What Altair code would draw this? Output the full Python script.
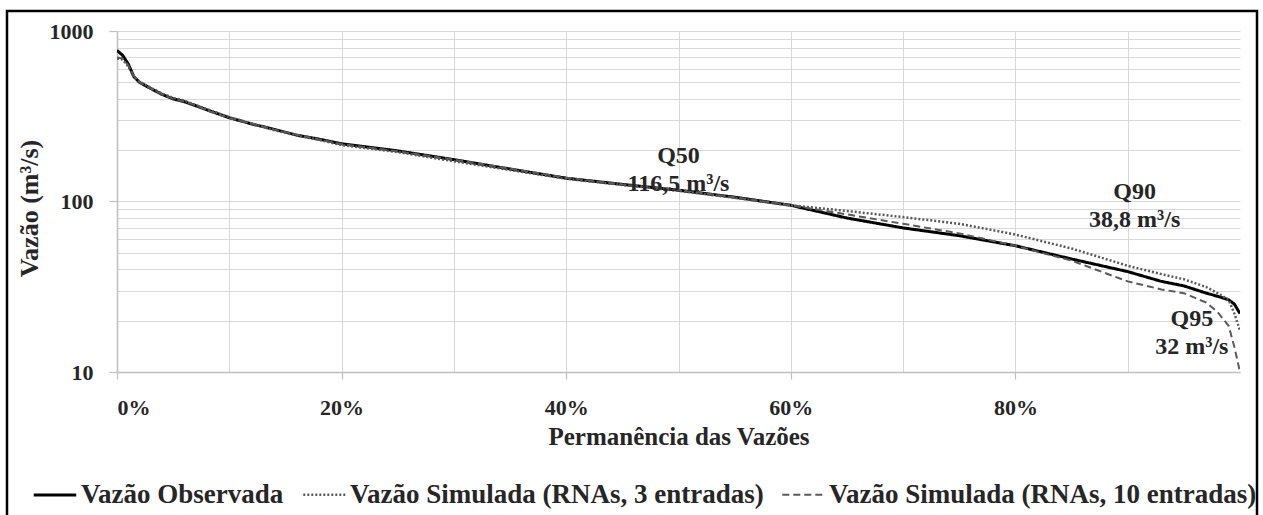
import altair as alt
import pandas as pd

# ---------------- data ----------------
perm = [0.0, 0.005, 0.01, 0.015, 0.02, 0.03, 0.04, 0.05, 0.06, 0.07, 0.08, 0.10,
        0.12, 0.14, 0.16, 0.18, 0.20, 0.25, 0.30, 0.35, 0.40, 0.45, 0.50, 0.55,
        0.60, 0.65, 0.70, 0.75, 0.80, 0.85, 0.90, 0.93, 0.95, 0.97, 0.98, 0.99,
        0.995, 1.0]
vazao_obs = [770, 720, 640, 540, 500, 460, 425, 400, 385, 365, 345, 310,
             285, 265, 245, 232, 218, 198, 176, 155, 137, 126, 116.5, 106,
             95, 80, 70, 63, 55, 46, 38.8, 34, 32, 29, 27.8, 26.5,
             25, 22]
vazao_rna3 = [690, 680, 620, 540, 505, 465, 430, 405, 390, 368, 348, 312,
              287, 262, 244, 230, 214, 195, 172, 153, 136, 125, 115.5, 105,
              95, 88, 81, 74, 64, 53, 42, 37.5, 35, 31.5, 29, 26.5,
              22, 17.5]
vazao_rna10 = [700, 690, 630, 545, 500, 460, 425, 400, 385, 368, 342, 308,
               286, 264, 246, 231, 217, 197, 176, 156, 138, 126, 117, 106,
               95, 84, 74, 65, 55, 45, 34, 30.5, 29, 25.5, 22.5, 18.6,
               14, 10]

series = ["Vazão Observada",
          "Vazão Simulada (RNAs, 3 entradas)",
          "Vazão Simulada (RNAs, 10 entradas)"]

q_names = ["Q50", "Q90", "Q95"]
q_perm = [0.50, 0.90, 0.95]
q_vazao = [116.5, 38.8, 32]
q_text = ["116,5 m³/s", "38,8 m³/s", "32 m³/s"]

x_grid = [i / 10 for i in range(10)]
y_grid = [10, 20, 30, 40, 50, 60, 70, 80, 90,
          100, 200, 300, 400, 500, 600, 700, 800, 900, 1000]

# ---------------- build table ----------------
rows = []
for name, vals in zip(series, [vazao_obs, vazao_rna3, vazao_rna10]):
    for p, v in zip(perm, vals):
        rows.append({"perm": p, "vazao": v, "serie": name})
df = pd.DataFrame(rows)

FONT = "Liberation Serif"
GRID = "#d9d9d9"
AXC = "#bfbfbf"
TXT = "#262626"

x_enc = alt.X(
    "perm:Q",
    scale=alt.Scale(domain=[0, 1], nice=False, zero=False),
    axis=alt.Axis(
        values=x_grid,
        labelExpr="round(datum.value*10) % 2 == 0 ? round(datum.value*100) + '%' : ''",
        labelOverlap=False,
        grid=True, gridColor=GRID, gridWidth=1,
        domainColor=AXC, domainWidth=1.5,
        tickColor=AXC, tickSize=7, tickWidth=1.2,
        tickOpacity={"condition": {"test": "round(datum.value*10) % 2 == 0", "value": 1}, "value": 0},
        labelFont=FONT, labelFontSize=22, labelFontWeight="bold", labelColor=TXT,
        labelPadding=18,
        title="Permanência das Vazões",
        titleFont=FONT, titleFontSize=25, titleFontWeight="bold", titleColor=TXT,
        titlePadding=6,
    ),
)

y_enc = alt.Y(
    "vazao:Q",
    scale=alt.Scale(type="log", domain=[10, 1000], nice=False),
    axis=alt.Axis(
        values=y_grid,
        format="d",
        labelExpr="indexof([10,100,1000], datum.value) >= 0 ? datum.label : ''",
        labelOverlap=False,
        grid=True, gridColor=GRID, gridWidth=1.2,
        domainColor=AXC, domainWidth=1.5,
        tickColor=AXC, tickSize=8, tickWidth=1.2,
        tickOpacity={"condition": {"test": "indexof([10,100,1000], datum.value) >= 0", "value": 1}, "value": 0},
        labelFont=FONT, labelFontSize=22, labelFontWeight="bold", labelColor=TXT,
        labelPadding=16,
        title="Vazão (m³/s)",
        titleFont=FONT, titleFontSize=26, titleFontWeight="bold", titleColor=TXT,
        titleAngle=-90, titleX=-88, titleY=177, titleAlign="center", titleBaseline="middle",
    ),
)

legend = alt.Legend(
    orient="none", legendX=-85, legendY=441, direction="horizontal", title=None,
    symbolType="stroke", symbolSize=1800, symbolOffset=0,
    labelFont=FONT, labelFontSize=27, labelFontWeight="bold", labelColor=TXT,
    labelLimit=1000, labelOffset=3, columnPadding=14,
)

lines = alt.Chart(df).mark_line(clip=True).encode(
    x=x_enc,
    y=y_enc,
    color=alt.Color("serie:N", scale=alt.Scale(domain=series, range=["#000000", "#5a5a5a", "#5a5a5a"]), legend=legend),
    strokeDash=alt.StrokeDash("serie:N", scale=alt.Scale(domain=series, range=[[1, 0], [2, 2], [7, 4]]), legend=legend),
    strokeWidth=alt.StrokeWidth("serie:N", scale=alt.Scale(domain=series, range=[3, 2, 2.5]), legend=legend),
    order="perm:Q",
)

# quantile annotations (anchored at the quantile points, offsets as style)
offsets = [(0, -34), (7, -80), (8, 33)]
ann_layers = []
for name, p, v, t, (dx, dy) in zip(q_names, q_perm, q_vazao, q_text, offsets):
    d = pd.DataFrame({"perm": [p], "vazao": [v], "label": [name + "\n" + t]})
    ann_layers.append(
        alt.Chart(d).mark_text(
            font=FONT, fontSize=24, fontWeight="bold", color=TXT,
            align="center", baseline="middle", lineBreak="\n", lineHeight=28,
            dx=dx, dy=dy,
        ).encode(x="perm:Q", y="vazao:Q", text="label:N")
    )

# outer frame around the whole figure
frame = alt.Chart(pd.DataFrame({"a": [0]})).mark_rect(
    fill="transparent", stroke="#000000", strokeWidth=2.5
).encode(
    x=alt.value(-110), x2=alt.value(1140), y=alt.value(-20), y2=alt.value(500)
)

chart = alt.layer(lines, *ann_layers, frame).properties(
    width=1123, height=341,
    padding={"left": 117, "top": 31, "right": 23, "bottom": 143},
    autosize=alt.AutoSizeParams(type="none"),
    background="white",
).configure_view(stroke=None)

chart.save("out.html", embed_options={"renderer": "svg", "actions": False})
